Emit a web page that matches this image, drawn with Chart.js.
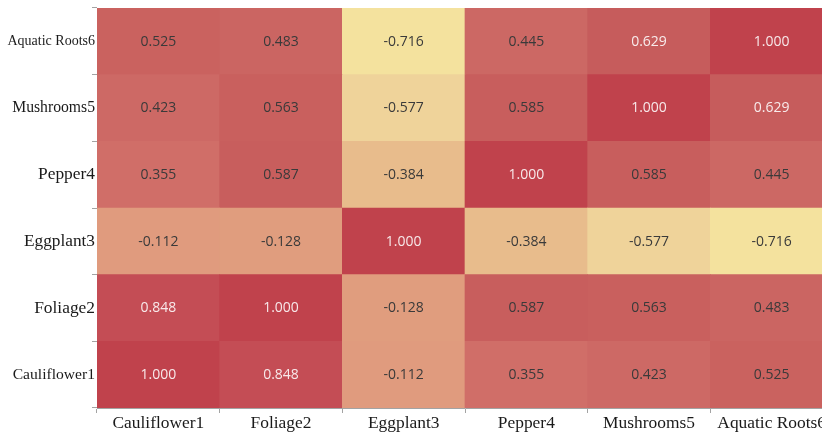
<!DOCTYPE html>
<html><head><meta charset="utf-8">
<script src="https://cdn.jsdelivr.net/npm/chart.js@4.4.1/dist/chart.umd.min.js"></script>
<style>
html,body{margin:0;padding:0;overflow:hidden;background:#fff;width:822px;height:434px}
#wrap{width:834px;height:434px}
</style>
</head><body><div id="wrap"><canvas id="c" width="834" height="434"></canvas></div>
<script>
// ---- data ----
const categories = ['Cauliflower1', 'Foliage2', 'Eggplant3', 'Pepper4', 'Mushrooms5', 'Aquatic Roots6'];
const rowCauliflower1 = [1.000, 0.848, -0.112, 0.355, 0.423, 0.525];
const rowFoliage2     = [0.848, 1.000, -0.128, 0.587, 0.563, 0.483];
const rowEggplant3    = [-0.112, -0.128, 1.000, -0.384, -0.577, -0.716];
const rowPepper4      = [0.355, 0.587, -0.384, 1.000, 0.585, 0.445];
const rowMushrooms5   = [0.423, 0.563, -0.577, 0.585, 1.000, 0.629];
const rowAquaticRoots6= [0.525, 0.483, -0.716, 0.445, 0.629, 1.000];
const matrix = [rowCauliflower1, rowFoliage2, rowEggplant3, rowPepper4, rowMushrooms5, rowAquaticRoots6];

// ---- styles ----
const colorStops = [
  [-0.716, [244, 226, 158]],
  [-0.577, [239, 211, 154]],
  [-0.384, [232, 188, 140]],
  [-0.120, [224, 156, 126]],
  [0.355,  [208, 110, 104]],
  [0.445,  [204, 104, 100]],
  [0.525,  [202, 98, 95]],
  [0.587,  [200, 94, 93]],
  [0.629,  [198, 92, 92]],
  [0.848,  [196, 77, 85]],
  [1.000,  [192, 66, 76]]
];
function cellColor(v) {
  if (v <= colorStops[0][0]) return 'rgb(' + colorStops[0][1].join(',') + ')';
  for (let i = 1; i < colorStops.length; i++) {
    const [v1, c1] = colorStops[i];
    const [v0, c0] = colorStops[i - 1];
    if (v <= v1) {
      const t = (v - v0) / (v1 - v0);
      const c = c0.map((a, k) => Math.round(a + (c1[k] - a) * t));
      return 'rgb(' + c.join(',') + ')';
    }
  }
  return 'rgb(' + colorStops[colorStops.length - 1][1].join(',') + ')';
}
const yLabelSizes = {
  'Aquatic Roots6': 14, 'Mushrooms5': 15.7, 'Pepper4': 17.4,
  'Eggplant3': 17.3, 'Foliage2': 17.4, 'Cauliflower1': 15.6
};
const axisColor = '#a3a3a3';
const serif = '"Liberation Serif", "Times New Roman", serif';

const datasets = matrix.map((row, r) => ({
  label: categories[r],
  data: row.map(() => 1),
  backgroundColor: row.map(cellColor),
  borderWidth: 0,
  barPercentage: 1,
  categoryPercentage: 1,
  xAxisID: 'x',
  yAxisID: 'y',
  stack: 'cells'
}));

const valueLabels = {
  id: 'valueLabels',
  afterDatasetsDraw(chart) {
    const ctx = chart.ctx;
    ctx.save();
    ctx.font = '14px "Open Sans", "Noto Sans", sans-serif';
    ctx.textAlign = 'center';
    ctx.textBaseline = 'middle';
    chart.data.datasets.forEach((ds, r) => {
      chart.getDatasetMeta(r).data.forEach((bar, c) => {
        const v = matrix[r][c];
        const p = bar.getProps(['x', 'y', 'base'], true);
        ctx.fillStyle = v >= 0.6 ? 'rgba(255,255,255,0.88)' : '#3a3a3a';
        ctx.fillText(v.toFixed(3), p.x, (p.y + p.base) / 2 + 0.5);
      });
    });
    ctx.restore();
  }
};

new Chart(document.getElementById('c'), {
  type: 'bar',
  data: { labels: categories, datasets },
  plugins: [valueLabels],
  options: {
    responsive: false,
    animation: false,
    layout: { padding: { top: 8, right: 1, left: 0, bottom: 0 } },
    plugins: { legend: { display: false }, tooltip: { enabled: false } },
    scales: {
      x: {
        type: 'category',
        stacked: true,
        offset: true,
        grid: { offset: true, drawOnChartArea: false, tickLength: 5, color: axisColor },
        border: { display: true, color: axisColor },
        ticks: { font: { family: serif, size: 17.4 }, color: '#1a1a1a', padding: 0, maxRotation: 0, autoSkip: false },
        afterFit: s => { s.height = 26; }
      },
      y: { type: 'linear', stacked: true, min: 0, max: 6, display: false },
      yl: {
        type: 'category',
        labels: categories.slice().reverse(),
        position: 'left',
        offset: true,
        grid: { offset: true, drawOnChartArea: false, tickLength: 5, color: axisColor },
        border: { display: true, color: axisColor },
        ticks: {
          autoSkip: false,
          padding: -3,
          color: '#1a1a1a',
          font: ctx => ({ family: serif, size: yLabelSizes[ctx.tick && ctx.tick.label] || 16 })
        },
        afterFit: s => { s.width = 97; }
      }
    }
  }
});
</script>
</body></html>
